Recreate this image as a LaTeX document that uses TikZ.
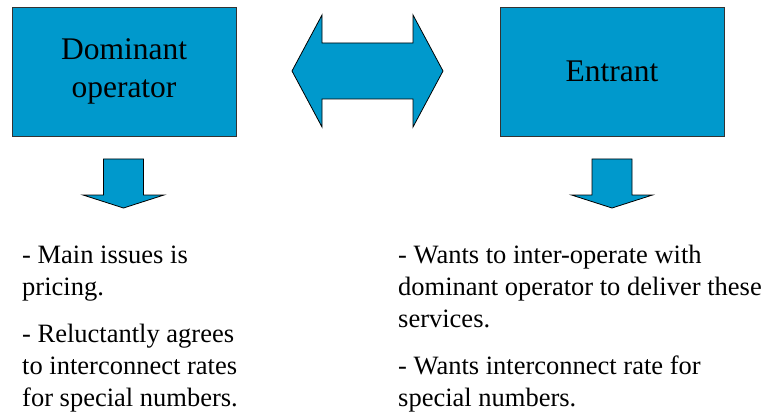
\documentclass[tikz,border=0pt]{standalone}
\usepackage{fontspec}
\setmainfont{Liberation Serif}
\usepackage{tikz}
\usetikzlibrary{positioning}
\usepackage{xcolor}
\definecolor{boxblue}{RGB}{0,153,204}

\begin{document}
\begin{tikzpicture}[x=1pt, y=-1pt,
  firm/.style = {draw=black!80, line width=0.8pt, fill=boxblue, minimum width=224pt, minimum height=129pt, align=center, font=\fontsize{31.5}{38}\selectfont},
  blk/.style = {draw=black, line width=0.8pt, fill=boxblue, line join=miter},
  note/.style = {anchor=base west, align=left, inner sep=0pt, font=\fontsize{26.5}{32}\selectfont}]
\useasboundingbox (0,0) rectangle (767,414);
\node[firm] (dom) at (124,71.5) {Dominant\\operator};
\node[firm] (ent) at (612,71.5) {Entrant};
% double arrow between the two firms
\coordinate (ltip) at (292,71);
\coordinate (rtip) at (443,71);
\draw[blk] (ltip) -- ++(30,-56) -- ++(0,28) -- ++(91,0) -- ++(0,-28) -- (rtip)
  -- ++(-30,56) -- ++(0,-28) -- ++(-91,0) -- ++(0,28) -- cycle;
% down arrows
\coordinate (dtip) at (123.5,208);
\coordinate (etip) at (612,208);
\draw[blk] (dtip) -- ++(-40.5,-13) -- ++(20.5,0) -- ++(0,-36) -- ++(40,0) -- ++(0,36) -- ++(20.5,0) -- cycle;
\draw[blk] (etip) -- ++(-40.5,-13) -- ++(20.5,0) -- ++(0,-36) -- ++(40,0) -- ++(0,36) -- ++(20.5,0) -- cycle;
% notes (anchored at the last baseline)
\node[note] (domnote) at (22,406) {- Main issues is\\pricing.\\[15pt]- Reluctantly agrees\\to interconnect rates\\for special numbers.};
\node[note] (entnote) at (398,406) {- Wants to inter-operate with\\dominant operator to deliver these\\services.\\[15pt]- Wants interconnect rate for\\special numbers.};
\end{tikzpicture}
\end{document}
